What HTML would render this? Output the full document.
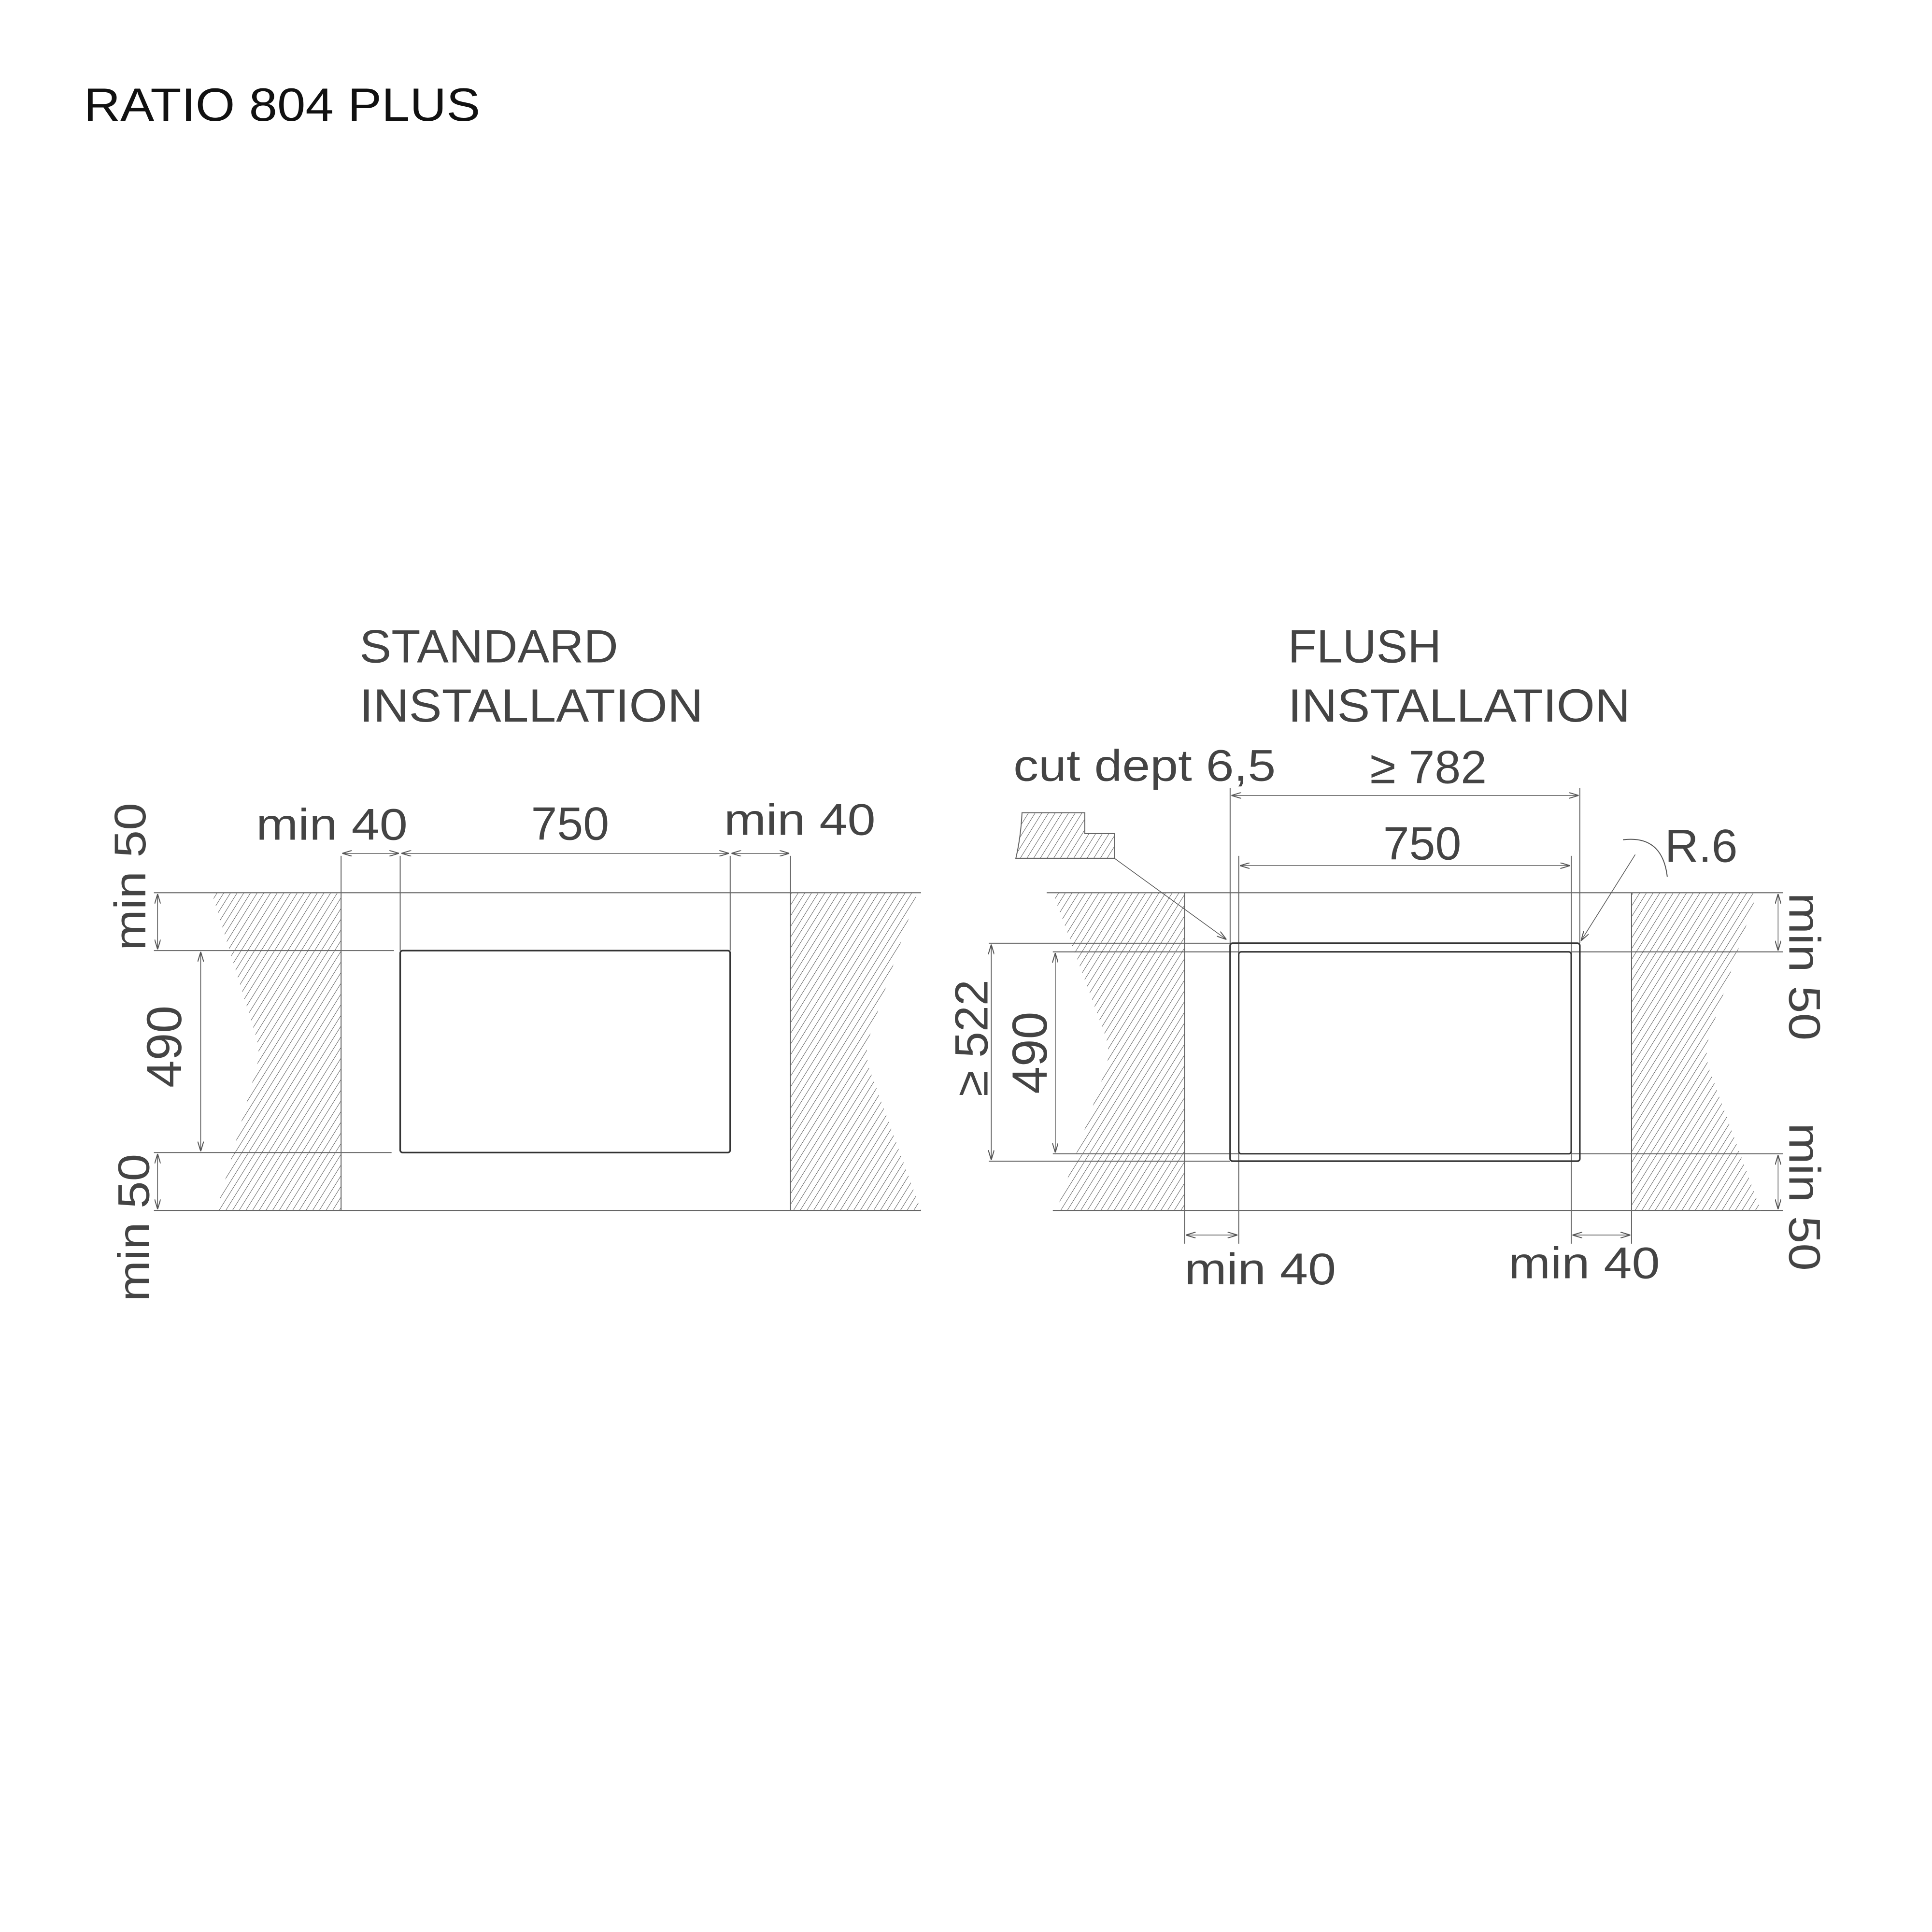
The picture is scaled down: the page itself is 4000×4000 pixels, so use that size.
<!DOCTYPE html>
<html><head><meta charset="utf-8"><style>
html,body{margin:0;padding:0;background:#fff}
svg{display:block}
text{font-family:"Liberation Sans",sans-serif;fill:#444}
</style></head><body>
<svg width="4000" height="4000" viewBox="0 0 1569 1569" xmlns="http://www.w3.org/2000/svg">
<defs>
<pattern id="h" patternUnits="userSpaceOnUse" width="4.6" height="4.6" patternTransform="rotate(32)">
<line x1="0" y1="0" x2="0" y2="4.6" stroke="#555" stroke-width="0.75"/>
</pattern>
<marker id="a" viewBox="0 0 10 6" refX="10" refY="3" markerWidth="8" markerHeight="5" orient="auto-start-reverse" markerUnits="userSpaceOnUse">
<path d="M0,0 L10,3 L0,6" fill="none" stroke="#555" stroke-width="1"/>
</marker>
</defs>
<rect width="1569" height="1569" fill="#fff"/>
<text x="68" y="98" font-size="38" style="fill:#111" textLength="322" lengthAdjust="spacingAndGlyphs">RATIO 804 PLUS</text>

<!-- STANDARD -->
<text x="292" y="538" font-size="38" textLength="210" lengthAdjust="spacingAndGlyphs">STANDARD</text>
<text x="292" y="586" font-size="38" textLength="279" lengthAdjust="spacingAndGlyphs">INSTALLATION</text>

<path d="M172,725 L277,725 L277,983 L176,983 L208,868 Q212,855 208,842 Z" fill="url(#h)"/>
<path d="M642,725 L745,725 L706,842 Q702,855 706,868 L748,983 L642,983Z" fill="url(#h)"/>
<g stroke="#666" stroke-width="0.8" fill="none">
<line x1="125" y1="725" x2="748" y2="725"/>
<line x1="125" y1="983" x2="748" y2="983"/>
<line x1="125" y1="772" x2="320" y2="772"/>
<line x1="125" y1="936" x2="318" y2="936"/>
<line x1="277" y1="695" x2="277" y2="983"/>
<line x1="642" y1="695" x2="642" y2="983"/>
<line x1="325" y1="695" x2="325" y2="772"/>
<line x1="593" y1="695" x2="593" y2="772"/>
</g>
<rect x="325" y="772" width="268" height="164" rx="2" fill="none" stroke="#333" stroke-width="1.3"/>
<g stroke="#555" stroke-width="0.6" fill="none" marker-start="url(#a)" marker-end="url(#a)">
<line x1="278" y1="693" x2="324" y2="693"/>
<line x1="326" y1="693" x2="592" y2="693"/>
<line x1="594" y1="693" x2="641" y2="693"/>
<line x1="128" y1="726" x2="128" y2="771"/>
<line x1="163" y1="773" x2="163" y2="935"/>
<line x1="128" y1="937" x2="128" y2="982"/>
</g>
<text x="208" y="682" font-size="36" textLength="123" lengthAdjust="spacingAndGlyphs">min 40</text>
<text x="463" y="682" font-size="38" text-anchor="middle">750</text>
<text x="588" y="678" font-size="36" textLength="123" lengthAdjust="spacingAndGlyphs">min 40</text>
<text transform="translate(118,712) rotate(-90)" font-size="36" text-anchor="middle" textLength="120" lengthAdjust="spacingAndGlyphs">min 50</text>
<text transform="translate(147,850) rotate(-90)" font-size="40" text-anchor="middle">490</text>
<text transform="translate(121,997) rotate(-90)" font-size="36" text-anchor="middle" textLength="120" lengthAdjust="spacingAndGlyphs">min 50</text>

<!-- FLUSH -->
<text x="1046" y="538" font-size="38">FLUSH</text>
<text x="1046" y="586" font-size="38" textLength="278" lengthAdjust="spacingAndGlyphs">INSTALLATION</text>

<path d="M855,725 L962,725 L962,983 L858,983 L898,868 Q902,855 898,842 Z" fill="url(#h)"/>
<path d="M1325,725 L1427,725 L1388,842 Q1384,855 1388,868 L1430,983 L1325,983Z" fill="url(#h)"/>
<g stroke="#666" stroke-width="0.8" fill="none">
<line x1="850" y1="725" x2="1427" y2="725"/>
<line x1="855" y1="983" x2="1430" y2="983"/>
<line x1="803" y1="766" x2="999" y2="766"/>
<line x1="803" y1="943" x2="999" y2="943"/>
<line x1="855" y1="773" x2="1006" y2="773"/>
<line x1="855" y1="937" x2="1006" y2="937"/>
<line x1="1276" y1="773" x2="1448" y2="773"/>
<line x1="1276" y1="937" x2="1448" y2="937"/>
<line x1="1427" y1="725" x2="1448" y2="725"/>
<line x1="1430" y1="983" x2="1448" y2="983"/>
<line x1="962" y1="725" x2="962" y2="1010"/>
<line x1="1325" y1="725" x2="1325" y2="1010"/>
<line x1="1006" y1="695" x2="1006" y2="1010"/>
<line x1="1276" y1="695" x2="1276" y2="1010"/>
<line x1="999" y1="640" x2="999" y2="766"/>
<line x1="1283" y1="640" x2="1283" y2="766"/>
</g>
<rect x="999" y="766" width="284" height="177" rx="2" fill="none" stroke="#333" stroke-width="1.3"/>
<rect x="1006" y="773" width="270" height="164" rx="2" fill="none" stroke="#333" stroke-width="1.2"/>
<g stroke="#555" stroke-width="0.6" fill="none" marker-start="url(#a)" marker-end="url(#a)">
<line x1="1000" y1="646" x2="1282" y2="646"/>
<line x1="1007" y1="703" x2="1275" y2="703"/>
<line x1="963" y1="1003" x2="1005" y2="1003"/>
<line x1="1277" y1="1003" x2="1324" y2="1003"/>
<line x1="805" y1="767" x2="805" y2="942"/>
<line x1="857" y1="774" x2="857" y2="936"/>
<line x1="1444" y1="726" x2="1444" y2="772"/>
<line x1="1444" y1="938" x2="1444" y2="982"/>
</g>
<text x="1160" y="636" font-size="38" text-anchor="middle">≥ 782</text>
<text x="1155" y="698" font-size="38" text-anchor="middle">750</text>
<text x="962" y="1043" font-size="36" textLength="123" lengthAdjust="spacingAndGlyphs">min 40</text>
<text x="1225" y="1038" font-size="36" textLength="123" lengthAdjust="spacingAndGlyphs">min 40</text>
<text transform="translate(802,843) rotate(-90)" font-size="38" text-anchor="middle">≥ 522</text>
<text transform="translate(850,855) rotate(-90)" font-size="40" text-anchor="middle">490</text>
<text transform="translate(1453,785) rotate(90)" font-size="36" text-anchor="middle" textLength="120" lengthAdjust="spacingAndGlyphs">min 50</text>
<text transform="translate(1453,972) rotate(90)" font-size="36" text-anchor="middle" textLength="120" lengthAdjust="spacingAndGlyphs">min 50</text>
<text x="823" y="634" font-size="36" textLength="213" lengthAdjust="spacingAndGlyphs">cut dept 6,5</text>
<path d="M830,660 L881,660 L881,677 L905,677 L905,697 L825,697 Q829,680 830,660Z" fill="url(#h)" stroke="#666" stroke-width="0.8"/>
<line x1="905" y1="697" x2="996" y2="763" stroke="#555" stroke-width="0.6" marker-end="url(#a)"/>
<line x1="1328" y1="694" x2="1284" y2="764" stroke="#555" stroke-width="0.6" marker-end="url(#a)"/>
<path d="M1318,682 Q1350,678 1354,712" fill="none" stroke="#555" stroke-width="0.8"/>
<text x="1352" y="700" font-size="38">R.6</text>
</svg>
</body></html>
